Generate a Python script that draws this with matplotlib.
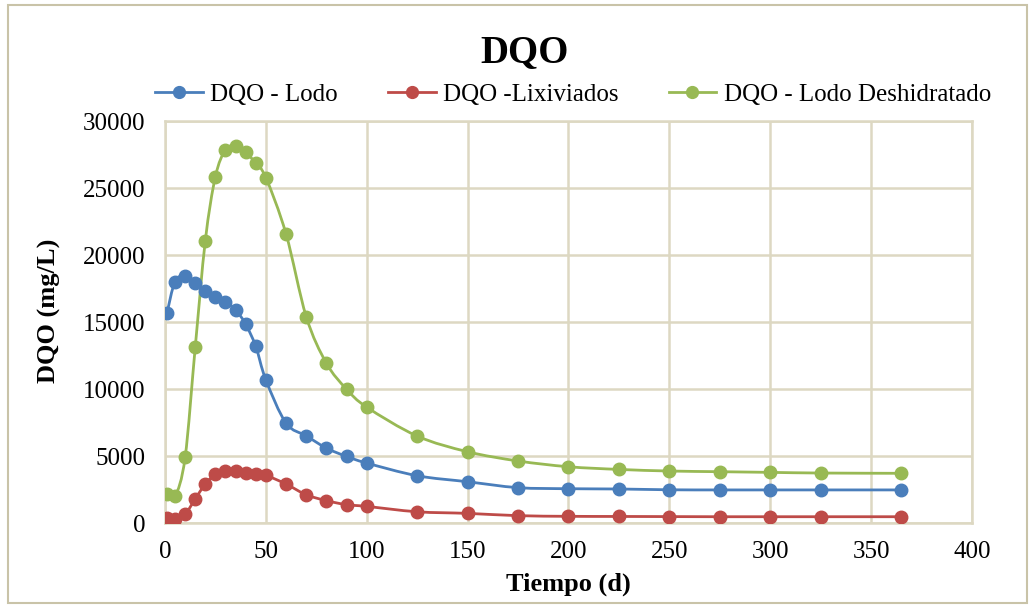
import matplotlib
matplotlib.use("Agg")
import matplotlib.pyplot as plt
from matplotlib.path import Path
from matplotlib.patches import PathPatch, Rectangle
from matplotlib.lines import Line2D
import numpy as np

# Sampling days
dias = [1, 5, 10, 15, 20, 25, 30, 35, 40, 45, 50, 60, 70, 80, 90, 100,
        125, 150, 175, 200, 225, 250, 275, 300, 325, 365]

# DQO (mg/L) per series
dqo_lodo = [15660, 18020, 18440, 17900, 17280, 16850, 16460, 15910, 14840,
            13180, 10690, 7460, 6510, 5590, 4970, 4475, 3530, 3080, 2640,
            2560, 2540, 2480, 2470, 2470, 2470, 2470]
dqo_lixiviados = [370, 320, 670, 1790, 2910, 3650, 3850, 3850, 3730, 3650,
                  3560, 2910, 2110, 1670, 1370, 1240, 840, 720, 550, 500,
                  490, 480, 470, 470, 470, 470]
dqo_deshidratado = [2190, 1990, 4900, 13100, 21060, 25850, 27840, 28140,
                    27670, 26850, 25780, 21580, 15410, 11930, 9990, 8650,
                    6490, 5320, 4630, 4200, 4000, 3880, 3830, 3780, 3730, 3710]

nombres = ["DQO - Lodo", "DQO -Lixiviados", "DQO - Lodo Deshidratado"]
colores = ["#4A7EBB", "#BE4B48", "#98B954"]

grid_color = "#DDD8C2"
serif = ["Liberation Serif", "DejaVu Serif"]
plt.rcParams["font.family"] = serif


def smooth_path(x, y):
    """Cubic Bezier path through the points (Catmull-Rom style smoothing)."""
    pts = np.column_stack([x, y]).astype(float)
    n = len(pts)
    verts = [pts[0]]
    codes = [Path.MOVETO]
    for i in range(n - 1):
        p0 = pts[i - 1] if i > 0 else pts[i]
        p1 = pts[i]
        p2 = pts[i + 1]
        p3 = pts[i + 2] if i + 2 < n else pts[i + 1]
        c1 = p1 + (p2 - p0) / 6.0
        c2 = p2 - (p3 - p1) / 6.0
        verts += [c1, c2, p2]
        codes += [Path.CURVE4] * 3
    return Path(verts, codes)


fig = plt.figure(figsize=(10.29, 6.05), dpi=100)
ax = fig.add_axes([0.1603, 0.1355, 0.7843, 0.6645])

series = [dqo_lodo, dqo_lixiviados, dqo_deshidratado]
handles = []
for vals, color, name in zip(series, colores, nombres):
    ax.add_patch(PathPatch(smooth_path(dias, vals), facecolor="none",
                           edgecolor=color, lw=2.0, zorder=3))
    ax.plot(dias, vals, linestyle="none", marker="o", markersize=9,
            markerfacecolor=color, markeredgecolor=color, zorder=4)
    handles.append(Line2D([], [], color=color, lw=2.0, marker="o",
                          markersize=8.5, markerfacecolor=color,
                          markeredgecolor=color, label=name))

ax.set_xlim(0, 400)
ax.set_ylim(0, 30000)
ax.set_xticks(np.arange(0, 401, 50))
ax.set_yticks(np.arange(0, 30001, 5000))
ax.grid(True, color=grid_color, lw=1.8, zorder=0)
ax.set_axisbelow(True)
for s in ax.spines.values():
    s.set_color(grid_color)
    s.set_linewidth(1.8)
ax.tick_params(length=0, labelsize=18, colors="black")
ax.tick_params(axis="y", pad=14)
ax.tick_params(axis="x", pad=13)

ax.set_xlabel("Tiempo (d)", fontsize=19, fontweight="bold", labelpad=7)
ax.set_ylabel("DQO (mg/L)", fontsize=19, fontweight="bold", labelpad=16)
ax.yaxis.label.set_y(0.527)

fig.text(0.51, 0.8975, "DQO", ha="center", va="baseline", fontsize=28,
         fontweight="bold")

fig.legend(handles=handles, loc="center", bbox_to_anchor=(0.557, 0.843),
           ncol=3, frameon=False, fontsize=18, handlelength=1.9,
           handletextpad=0.3, columnspacing=2.0)

# Outer frame of the chart
fig.patches.append(Rectangle((0.008, 0.004), 0.99, 0.988,
                             transform=fig.transFigure, fill=False,
                             edgecolor="#C9C3A8", lw=1.5))

fig.savefig("out.png", dpi=100)
